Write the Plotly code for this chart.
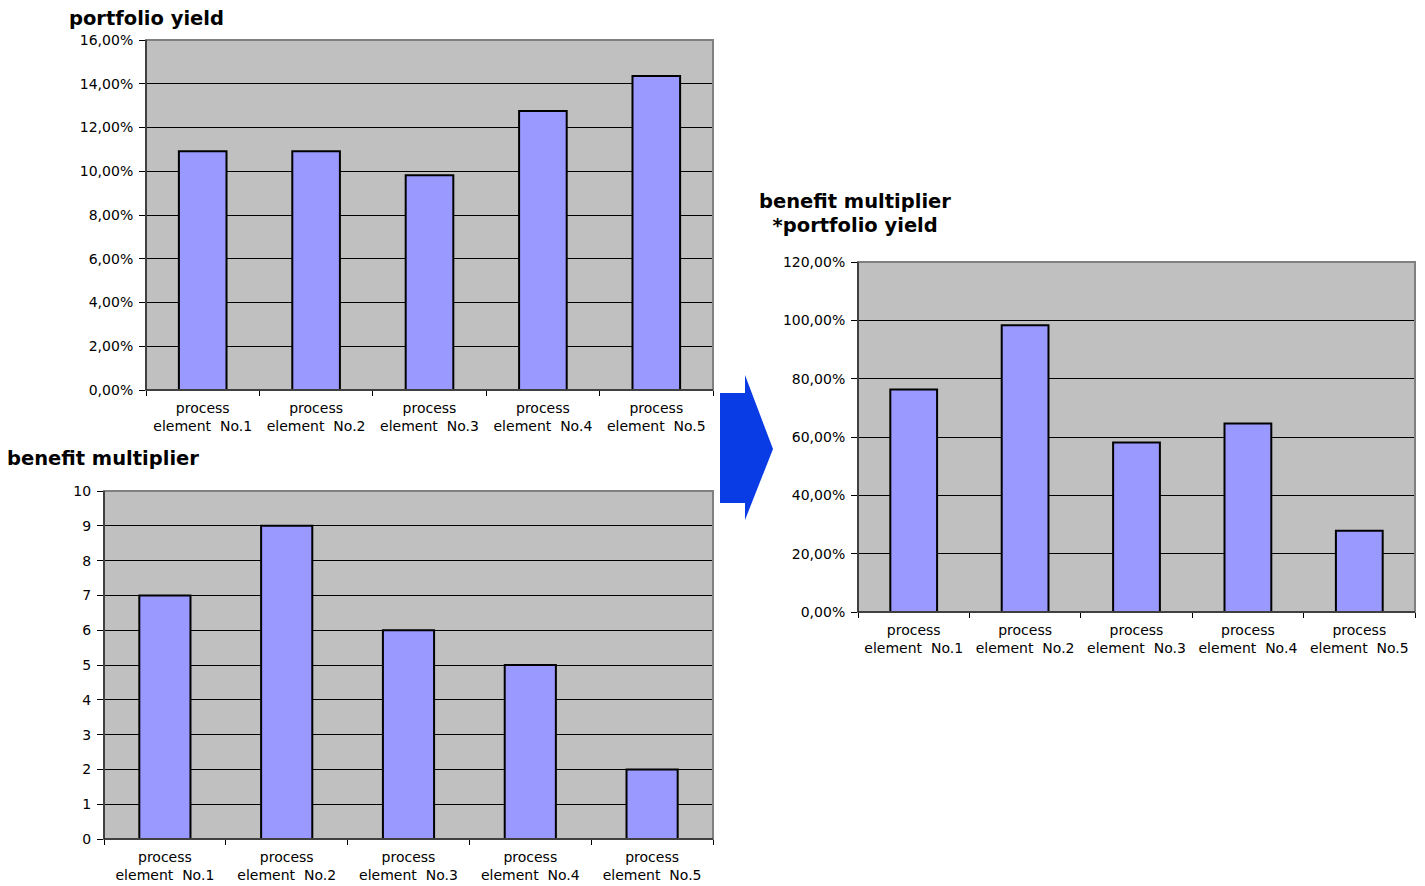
import plotly.graph_objects as go

categories = ["process<br>element  No.1", "process<br>element  No.2", "process<br>element  No.3",
              "process<br>element  No.4", "process<br>element  No.5"]
portfolio_yield = [0.1092, 0.1092, 0.0982, 0.1275, 0.1436]
benefit_multiplier = [7, 9, 6, 5, 2]
weighted_yield = [0.763, 0.983, 0.581, 0.646, 0.279]

W, H = 1425, 886
FONT = "DejaVu Sans"
BAR = "#9999FF"
GRID = "#000000"
BG = "#C0C0C0"


def px(x):
    return x / W


def py(y):
    return 1 - y / H


fig = go.Figure()
fig.add_trace(go.Bar(x=categories, y=portfolio_yield, xaxis="x", yaxis="y",
                     marker=dict(color=BAR, line=dict(color="black", width=2))))
fig.add_trace(go.Bar(x=categories, y=benefit_multiplier, xaxis="x2", yaxis="y2",
                     marker=dict(color=BAR, line=dict(color="black", width=2))))
fig.add_trace(go.Bar(x=categories, y=weighted_yield, xaxis="x3", yaxis="y3",
                     marker=dict(color=BAR, line=dict(color="black", width=2))))

xcommon = dict(showgrid=False, showline=True, linecolor="black", linewidth=1, automargin=False,
               ticks="outside", ticklen=5, tickcolor="black", tickson="boundaries",
               ticklabelstandoff=5,
               tickfont=dict(family=FONT, size=14, color="black"), fixedrange=True)
ycommon = dict(showgrid=True, gridcolor=GRID, gridwidth=1, showline=True, linecolor="black",
               linewidth=1, ticks="outside", ticklen=6, tickcolor="black", zeroline=False,
               automargin=False, ticklabelstandoff=3,
               tickfont=dict(family=FONT, size=14, color="black"), fixedrange=True)

domains = {
    "1": ((146, 713), (40, 390)),
    "2": ((104, 713), (491, 839)),
    "3": ((858, 1415), (262, 612)),
}

layout = dict(
    width=W, height=H, margin=dict(l=0, r=0, t=0, b=0, autoexpand=False),
    paper_bgcolor="white", plot_bgcolor=BG, showlegend=False, bargap=0.58,
    separators=",.",
    font=dict(family=FONT, color="black"),
)
for k, ((x0, x1), (y0, y1)) in domains.items():
    sfx = "" if k == "1" else k
    layout["xaxis" + sfx] = dict(xcommon, domain=[px(x0), px(x1)], anchor="y" + sfx)
    layout["yaxis" + sfx] = dict(ycommon, domain=[py(y1), py(y0)], anchor="x" + sfx)

layout["yaxis"].update(range=[0, 0.16], dtick=0.02, tickformat=".2%")
layout["yaxis2"].update(range=[0, 10], dtick=1)
layout["yaxis3"].update(range=[0, 1.2], dtick=0.2, tickformat=".2%")

fig.update_layout(**layout)

shapes = []
for k in ["", "2", "3"]:
    shapes.append(dict(type="rect", xref=f"x{k} domain", yref=f"y{k} domain",
                       x0=0, x1=1, y0=0, y1=1, line=dict(color="#808080", width=2),
                       fillcolor="rgba(0,0,0,0)", layer="above"))
    shapes.append(dict(type="line", xref=f"x{k} domain", yref=f"y{k} domain",
                       x0=0, x1=0, y0=0, y1=1, line=dict(color="black", width=1), layer="above"))
    shapes.append(dict(type="line", xref=f"x{k} domain", yref=f"y{k} domain",
                       x0=0, x1=1, y0=0, y1=0, line=dict(color="black", width=1), layer="above"))

# blue arrow
arrow = [(720, 393), (745, 393), (745, 375), (773, 449), (745, 520), (745, 503), (720, 503)]
path = "M " + " L ".join(f"{px(x)},{py(y)}" for x, y in arrow) + " Z"
shapes.append(dict(type="path", xref="paper", yref="paper", path=path,
                   fillcolor="#0A3CE6", line=dict(width=0)))
fig.update_layout(shapes=shapes)

titles = [
    ("portfolio yield", 67, 18),
    ("benefit multiplier", 5, 459),
    ("benefit multiplier", 757, 202),
    ("  *portfolio yield", 757, 226),
]
for t, x, y in titles:
    fig.add_annotation(text=f"<b>{t}</b>", xref="paper", yref="paper", x=px(x), y=py(y),
                       xanchor="left", yanchor="middle", showarrow=False,
                       font=dict(family=FONT, size=19.5, color="black"))

fig.write_html("out.html")
